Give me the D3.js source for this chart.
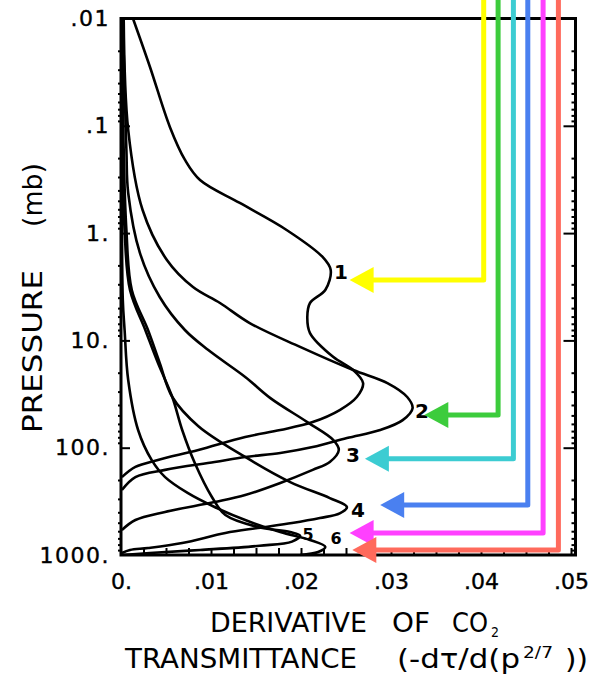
<!DOCTYPE html>
<html>
<head>
<meta charset="utf-8">
<script src="https://cdn.jsdelivr.net/npm/d3@7"></script>
<style>
  html, body { margin: 0; padding: 0; background: #fff; }
  svg { display: block; }
  text { font-family: "DejaVu Sans", sans-serif; fill: #000; }
</style>
</head>
<body>
<svg id="chart" width="599" height="677"></svg>
<script>
// ---- tick values and labels ----
const xTickValues = [0, 0.01, 0.02, 0.03, 0.04, 0.05];
const xTickLabels = ["0.", ".01", ".02", ".03", ".04", ".05"];
const yTickValues = [0.01, 0.1, 1, 10, 100, 1000];
const yTickLabels = [".01", ".1", "1.", "10.", "100.", "1000."];

// ---- channel weighting functions: [ -dτ/d(p^2/7), pressure (mb) ] ----
const channels = ["1", "2", "3", "4", "5", "6"];
const channel1 = [
  [0.00133, 0.01], [0.00322, 0.0283], [0.00544, 0.103], [0.00711, 0.208],
  [0.00878, 0.320], [0.0132, 0.524], [0.0184, 0.935], [0.0224, 1.67],
  [0.0233, 2.21], [0.0227, 3.39], [0.0210, 4.48], [0.0207, 6.06],
  [0.0210, 8.54], [0.0236, 14.3], [0.0258, 18.9], [0.0269, 25.0],
  [0.0262, 33.7], [0.0243, 44.6], [0.0213, 57.7], [0.0177, 68.4],
  [0.0138, 79.5], [0.0086, 105], [0.0041, 130], [0.0016, 151], [0.0001, 188]
];
const channel2 = [
  [0.0003, 0.01], [0.0008, 0.109], [0.0024, 0.609], [0.0051, 1.78],
  [0.0080, 3.18], [0.0110, 4.48], [0.0143, 6.89], [0.0199, 11.5],
  [0.0258, 18.9], [0.0296, 25.0], [0.0318, 33.7], [0.0324, 42.7],
  [0.0313, 55.3], [0.0288, 68.4], [0.0251, 81.3], [0.0213, 98.6],
  [0.0177, 112], [0.0138, 122], [0.0104, 136], [0.0049, 161],
  [0.0016, 188], [0.0001, 248]
];
const channel3 = [
  [0.0002, 0.01], [0.0006, 0.168], [0.0008, 0.423], [0.0021, 1.53],
  [0.0043, 3.94], [0.0071, 8.0], [0.0097, 12.3], [0.0138, 21.9],
  [0.0166, 34.5], [0.0207, 57.7], [0.0236, 84.9], [0.0242, 105],
  [0.0232, 136], [0.0213, 161], [0.0177, 213], [0.0138, 276],
  [0.0104, 321], [0.0049, 397], [0.0016, 472], [0.0001, 585]
];
const channel4 = [
  [0.0002, 0.01], [0.0003, 0.168], [0.0006, 0.935], [0.0012, 3.39],
  [0.0030, 8.0], [0.0043, 16.2], [0.0057, 33.7], [0.0086, 63],
  [0.0138, 122], [0.0188, 209], [0.0232, 295], [0.0251, 357],
  [0.0243, 410], [0.0221, 452], [0.0190, 503], [0.0152, 560],
  [0.0116, 624], [0.0068, 773], [0.0030, 861], [0.0010, 898], [0.0001, 958]
];
const channel5 = [
  [0.0001, 0.01], [0.0002, 0.168], [0.0004, 0.935], [0.0010, 3.39],
  [0.0027, 8.0], [0.0041, 16.2], [0.0057, 33.7], [0.0068, 68.4],
  [0.0082, 139], [0.0101, 288], [0.0116, 424], [0.0152, 548],
  [0.0188, 611], [0.0199, 660], [0.0190, 750], [0.0154, 820],
  [0.0088, 898], [0.0032, 958], [0.0001, 1000]
];
const channel6 = [
  [0.0001, 0.01], [0.0001, 0.49], [0.0002, 4.2], [0.0004, 8.0],
  [0.0008, 23.4], [0.0019, 68.4], [0.0034, 130], [0.0049, 188],
  [0.0074, 264], [0.0104, 357], [0.0138, 472], [0.0177, 611],
  [0.0210, 724], [0.0227, 840], [0.0219, 938], [0.0199, 1000]
];
const channelCurves = [channel1, channel2, channel3, channel4, channel5, channel6];

// ---- leader arrows pointing at each channel label (value / pressure space) ----
const arrowColumn   = [0.0403, 0.0419, 0.0436, 0.0452, 0.0469, 0.0486];
const arrowTip      = [0.0254, 0.0337, 0.0271, 0.0288, 0.0254, 0.0257];
const arrowPressure = [2.73, 49.5, 127, 342, 624, 898];

// ---- styling ----
const arrowColors = ["#ffff00", "#3ccc3c", "#3cccd2", "#4a80f0", "#ff40ff", "#ff6a5c"];
const labelAt = [[341, 279], [422, 418], [353, 462], [358, 517], [308, 540], [336, 544]];
const labelSize = [20, 20, 20, 20, 16, 16];

const svg = d3.select("#chart");
svg.append("rect").attr("width", 599).attr("height", 677).attr("fill", "#fff");

const x = d3.scaleLinear().domain([0, 0.0505]).range([121, 575.5]);
const y = d3.scaleLog().domain([0.01, 1000]).range([18.5, 555]);

const [x0, x1] = x.range();
const [y0, y1] = y.range();

// clip for curves
svg.append("defs").append("clipPath").attr("id", "plot")
  .append("rect").attr("x", x0).attr("y", y0).attr("width", x1 - x0).attr("height", y1 - y0);

// ---- curves ----
const line = d3.line()
  .x(d => x(d[0]))
  .y(d => y(d[1]))
  .curve(d3.curveCatmullRom.alpha(0.5));

svg.append("g").attr("clip-path", "url(#plot)")
  .selectAll("path").data(channelCurves).join("path")
  .attr("d", line)
  .attr("fill", "none")
  .attr("stroke", "#000")
  .attr("stroke-width", 2.6)
  .attr("stroke-linejoin", "round");

// ---- ticks ----
const xMinor = d3.range(1, 21).map(i => i * 0.0025);
const decades = [0.01, 0.1, 1, 10, 100];
const yMinor = [];
decades.forEach(d => { for (let k = 2; k <= 9; k++) yMinor.push(d * k); });
const yMajor = [0.1, 1, 10, 100];

function styleTicks(g) {
  g.select(".domain").remove();
  g.selectAll(".tick line").attr("stroke", "#000").attr("stroke-width", 2);
}

svg.append("g").attr("transform", `translate(0,${y1})`)
  .call(d3.axisBottom(x).tickValues(xMinor).tickSize(-7).tickFormat(""))
  .call(styleTicks);

svg.append("g").attr("transform", `translate(${x0},0)`)
  .call(d3.axisLeft(y).tickValues(yMajor).tickSize(-9).tickFormat(""))
  .call(styleTicks);
svg.append("g").attr("transform", `translate(${x0},0)`)
  .call(d3.axisLeft(y).tickValues(yMinor).tickSize(3).tickFormat(""))
  .call(styleTicks);

svg.append("g").attr("transform", `translate(${x1},0)`)
  .call(d3.axisRight(y).tickValues(yMajor).tickSize(-12).tickFormat(""))
  .call(styleTicks);
svg.append("g").attr("transform", `translate(${x1},0)`)
  .call(d3.axisRight(y).tickValues(yMinor).tickSize(-4).tickFormat(""))
  .call(styleTicks);

// tick labels
svg.append("g").attr("transform", `translate(0,${y1})`)
  .call(d3.axisBottom(x).tickValues(xTickValues).tickSize(0).tickPadding(18)
    .tickFormat((d, i) => xTickLabels[i]))
  .call(g => g.select(".domain").remove())
  .call(g => g.selectAll("text")
    .attr("font-family", "DejaVu Sans").attr("font-size", 22).attr("fill", "#000")
    .attr("stroke", "#000").attr("stroke-width", 0.4));

svg.append("g").attr("transform", `translate(${x0},0)`)
  .call(d3.axisLeft(y).tickValues(yTickValues).tickSize(0).tickPadding(11)
    .tickFormat((d, i) => yTickLabels[i]))
  .call(g => g.select(".domain").remove())
  .call(g => g.selectAll("text")
    .attr("font-family", "DejaVu Sans").attr("font-size", 22).attr("fill", "#000")
    .attr("stroke", "#000").attr("stroke-width", 0.4)
    .attr("letter-spacing", 1.5));

// ---- frame ----
svg.append("rect")
  .attr("x", x0).attr("y", y0).attr("width", x1 - x0).attr("height", y1 - y0)
  .attr("fill", "none").attr("stroke", "#000").attr("stroke-width", 3);

// ---- channel numbers ----
svg.append("g").selectAll("text").data(channels).join("text")
  .attr("x", (d, i) => labelAt[i][0])
  .attr("y", (d, i) => labelAt[i][1])
  .attr("text-anchor", "middle")
  .attr("font-size", (d, i) => labelSize[i])
  .attr("font-weight", "bold")
  .text(d => d);

// ---- coloured leader arrows ----
const arrows = svg.append("g");
channels.forEach((c, i) => {
  const cx = x(arrowColumn[i]);
  const ty = y(arrowPressure[i]);
  const tx = x(arrowTip[i]);
  arrows.append("path")
    .attr("d", `M${cx},0V${ty}H${tx + 18}`)
    .attr("fill", "none")
    .attr("stroke", arrowColors[i])
    .attr("stroke-width", 5)
    .attr("stroke-linejoin", "round");
  arrows.append("path")
    .attr("d", `M${tx},${ty}L${tx + 24},${ty - 13}L${tx + 24},${ty + 13}Z`)
    .attr("fill", arrowColors[i]);
});

// ---- axis titles ----
const title = svg.append("g").attr("font-size", 27);
function word(parent, txt, xPos, yPos, len, size) {
  const t = parent.append("text").attr("x", xPos).attr("y", yPos).text(txt);
  if (len) t.attr("textLength", len).attr("lengthAdjust", "spacingAndGlyphs");
  if (size) t.attr("font-size", size);
  return t;
}
word(title, "DERIVATIVE", 210, 632, 157);
word(title, "OF", 392, 632, 38);
word(title, "CO", 452, 632, 36);
word(title, "2", 491, 637, 8, 14);
word(title, "TRANSMITTANCE", 125, 668, 232);
word(title, "(-dτ/d(p", 397, 668, 123);
word(title, "2/7", 523, 658, 30, 15);
word(title, "))", 565, 668, 23);

const ytitle = svg.append("g").attr("font-size", 27)
  .attr("transform", "translate(42,0) rotate(-90)");
word(ytitle, "PRESSURE", -433, 0, 163);
word(ytitle, "(mb)", -227, 0, 64);
</script>
</body>
</html>
